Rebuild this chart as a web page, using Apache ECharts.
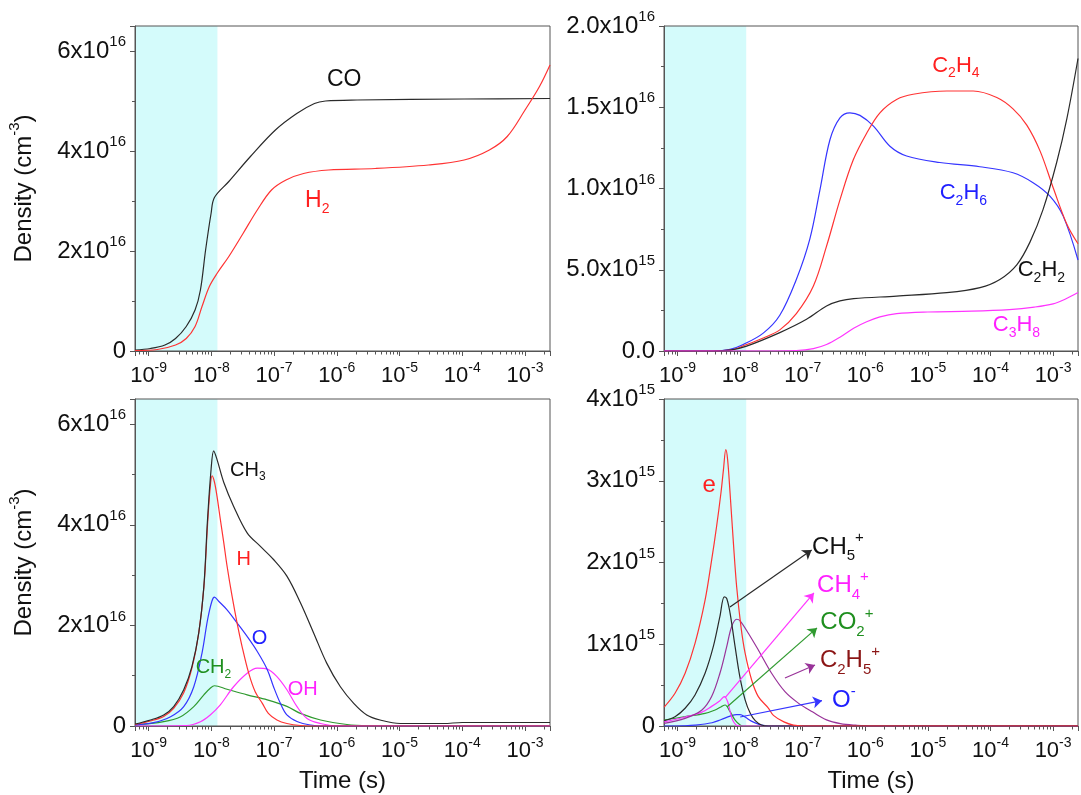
<!DOCTYPE html>
<html>
<head>
<meta charset="utf-8">
<script src="https://cdn.jsdelivr.net/npm/echarts@6/dist/echarts.min.js"></script>
<style>html,body{margin:0;padding:0;background:#fff}#c{width:1081px;height:795px}</style>
</head>
<body>
<div id="c"></div>
<script>
// ---------------- data (time in s, density in cm^-3) ----------------
// Panel 1
const CO = [[6.1e-10,0.02e16],[1.07e-9,0.05e16],[1.82e-9,0.12e16],[2.69e-9,0.25e16],[3.98e-9,0.49e16],[5.5e-9,0.82e16],[6.7e-9,1.22e16],[8.1e-9,2.02e16],[9.9e-9,2.75e16],[1.12e-8,3.07e16],[1.9e-8,3.39e16],[4.2e-8,3.89e16],[1.05e-7,4.42e16],[2.3e-7,4.75e16],[4.4e-7,4.95e16],[6.6e-7,5.0e16],[2.1e-6,5.02e16],[1.07e-4,5.04e16],[2.5e-3,5.05e16]];
const H2 = [[6.1e-10,0.01e16],[1.38e-9,0.03e16],[2.69e-9,0.12e16],[3.98e-9,0.25e16],[5.5e-9,0.49e16],[7.1e-9,0.89e16],[9.3e-9,1.29e16],[1.23e-8,1.55e16],[1.9e-8,1.89e16],[3.2e-8,2.35e16],[5.4e-8,2.82e16],[9.1e-8,3.22e16],[1.55e-7,3.42e16],[2.95e-7,3.55e16],[7.4e-7,3.62e16],[4.1e-6,3.65e16],[2.9e-5,3.72e16],[1.07e-4,3.82e16],[2.7e-4,4.02e16],[5.2e-4,4.29e16],[1e-3,4.82e16],[1.7e-3,5.29e16],[2.5e-3,5.72e16]];
// Panel 2
const C2H6 = [[6.1e-10,0],[3.7e-9,0],[6.9e-9,0.01e16],[1.12e-8,0.04e16],[2.34e-8,0.11e16],[4.3e-8,0.22e16],[7.9e-8,0.44e16],[1.3e-7,0.69e16],[1.88e-7,0.99e16],[2.72e-7,1.30e16],[3.93e-7,1.435e16],[5.68e-7,1.466e16],[8.2e-7,1.45e16],[1.35e-6,1.384e16],[2.47e-6,1.26e16],[4.57e-6,1.20e16],[1.55e-5,1.16e16],[6.76e-5,1.134e16],[2.29e-4,1.097e16],[4.79e-4,1.036e16],[8.9e-4,0.953e16],[1.45e-3,0.83e16],[2.5e-3,0.56e16]];
const C2H4 = [[6.1e-10,0],[3.7e-9,0],[6.9e-9,0.005e16],[1.27e-8,0.04e16],[2.34e-8,0.08e16],[4.3e-8,0.13e16],[7.9e-8,0.23e16],[1.48e-7,0.40e16],[2.4e-7,0.645e16],[3.93e-7,0.93e16],[6.4e-7,1.175e16],[1.05e-6,1.34e16],[1.71e-6,1.466e16],[3.16e-6,1.548e16],[5.8e-6,1.58e16],[2.0e-5,1.60e16],[5.3e-5,1.60e16],[1.26e-4,1.56e16],[2.29e-4,1.49e16],[3.8e-4,1.39e16],[6.2e-4,1.23e16],[1e-3,1.006e16],[1.66e-3,0.78e16],[2.5e-3,0.66e16]];
const C2H2 = [[6.1e-10,0],[3.7e-9,0],[6.9e-9,0.005e16],[1.27e-8,0.03e16],[4.3e-8,0.113e16],[1.15e-7,0.195e16],[2.4e-7,0.277e16],[3.93e-7,0.308e16],[6.5e-7,0.322e16],[3.16e-6,0.338e16],[2.0e-5,0.359e16],[6.8e-5,0.39e16],[1.41e-4,0.44e16],[2.63e-4,0.53e16],[4.27e-4,0.67e16],[6.9e-4,0.87e16],[1.14e-3,1.16e16],[1.66e-3,1.43e16],[2.5e-3,1.80e16]];
const C3H8 = [[6.1e-10,0],[2.5e-8,0],[7.9e-8,0.003e16],[1.48e-7,0.015e16],[2.4e-7,0.04e16],[3.93e-7,0.085e16],[6.5e-7,0.14e16],[1.05e-6,0.18e16],[1.71e-6,0.21e16],[3.16e-6,0.23e16],[1e-5,0.24e16],[5e-5,0.245e16],[2e-4,0.255e16],[5e-4,0.27e16],[1e-3,0.29e16],[1.58e-3,0.32e16],[2.5e-3,0.36e16]];
// Panel 3
const CH3 = [[6.1e-10,0.04e16],[1.07e-9,0.12e16],[1.74e-9,0.22e16],[2.51e-9,0.385e16],[3.63e-9,0.72e16],[4.9e-9,1.18e16],[6.3e-9,1.85e16],[7.6e-9,2.78e16],[8.7e-9,4.11e16],[9.9e-9,5.10e16],[1.09e-8,5.47e16],[1.23e-8,5.30e16],[1.58e-8,4.84e16],[2.26e-8,4.37e16],[3.72e-8,3.84e16],[6.0e-8,3.575e16],[9.8e-8,3.31e16],[1.6e-7,2.98e16],[2.63e-7,2.45e16],[4.27e-7,1.85e16],[6.9e-7,1.25e16],[1.14e-6,0.78e16],[1.86e-6,0.45e16],[3.0e-6,0.22e16],[4.9e-6,0.12e16],[1.02e-5,0.05e16],[5e-5,0.05e16],[1e-4,0.07e16],[2.5e-3,0.07e16]];
const H = [[6.1e-10,0.03e16],[1.07e-9,0.10e16],[1.74e-9,0.19e16],[2.51e-9,0.35e16],[3.63e-9,0.66e16],[4.9e-9,1.15e16],[6.3e-9,1.85e16],[7.6e-9,2.75e16],[8.7e-9,4.0e16],[9.6e-9,4.75e16],[1.03e-8,4.97e16],[1.12e-8,4.85e16],[1.23e-8,4.57e16],[1.39e-8,4.11e16],[1.58e-8,3.64e16],[1.78e-8,3.18e16],[2.14e-8,2.58e16],[2.57e-8,2.05e16],[3.09e-8,1.58e16],[3.94e-8,1.05e16],[5.0e-8,0.68e16],[6.5e-8,0.45e16],[8.1e-8,0.25e16],[1.11e-7,0.12e16],[1.6e-7,0.05e16],[2.63e-7,0.01e16],[5e-7,0],[2.5e-3,0]];
const O = [[6.1e-10,0.02e16],[1.2e-9,0.066e16],[2.24e-9,0.185e16],[3.63e-9,0.385e16],[5.25e-9,0.78e16],[7.1e-9,1.45e16],[8.7e-9,2.11e16],[1.02e-8,2.48e16],[1.12e-8,2.56e16],[1.31e-8,2.48e16],[1.78e-8,2.31e16],[2.57e-8,2.05e16],[3.72e-8,1.78e16],[5.4e-8,1.48e16],[7.8e-8,1.12e16],[9.8e-8,0.78e16],[1.26e-7,0.45e16],[1.6e-7,0.22e16],[2.32e-7,0.09e16],[3.8e-7,0.02e16],[6.3e-7,0],[2.5e-3,0]];
const OH = [[6.1e-10,0],[4.07e-9,0.01e16],[6.7e-9,0.086e16],[9.6e-9,0.22e16],[1.39e-8,0.42e16],[2.26e-8,0.78e16],[3.72e-8,1.05e16],[5.4e-8,1.15e16],[7.8e-8,1.13e16],[1.11e-7,0.98e16],[1.6e-7,0.72e16],[2.32e-7,0.385e16],[3.35e-7,0.15e16],[5.5e-7,0.05e16],[1e-6,0],[2.5e-3,0]];
const CH2 = [[6.1e-10,0.02e16],[1.74e-9,0.086e16],[3.24e-9,0.185e16],[5.25e-9,0.385e16],[7.6e-9,0.62e16],[9.6e-9,0.75e16],[1.12e-8,0.80e16],[1.78e-8,0.73e16],[3.72e-8,0.62e16],[7.8e-8,0.52e16],[1.6e-7,0.39e16],[2.63e-7,0.25e16],[5.5e-7,0.12e16],[1.45e-6,0.03e16],[3.2e-6,0.005e16],[1e-5,0],[2.5e-3,0]];
// Panel 4
const E = [[6.1e-10,0.23e15],[9.1e-10,0.40e15],[1.32e-9,0.645e15],[1.9e-9,1.01e15],[2.75e-9,1.54e15],[3.5e-9,2.03e15],[4.2e-9,2.44e15],[4.93e-9,2.85e15],[5.4e-9,3.13e15],[5.9e-9,3.38e15],[6.3e-9,3.26e15],[6.9e-9,2.85e15],[7.8e-9,2.24e15],[8.8e-9,1.70e15],[1.03e-8,1.215e15],[1.2e-8,0.89e15],[1.53e-8,0.56e15],[1.95e-8,0.36e15],[2.82e-8,0.22e15],[3.4e-8,0.13e15],[5e-8,0.05e15],[7.1e-8,0.01e15],[1e-7,0],[2.5e-3,0]];
const CH5P = [[6.1e-10,0.065e15],[9.1e-10,0.114e15],[1.32e-9,0.217e15],[1.9e-9,0.38e15],[2.75e-9,0.645e15],[3.72e-9,0.97e15],[4.75e-9,1.34e15],[5.57e-9,1.58e15],[6.1e-9,1.56e15],[6.9e-9,1.38e15],[8.3e-9,0.97e15],[9.9e-9,0.60e15],[1.2e-8,0.32e15],[1.45e-8,0.155e15],[1.74e-8,0.065e15],[2.19e-8,0.012e15],[2.8e-8,0],[2.5e-3,0]];
const C2H5P = [[6.1e-10,0.033e15],[1.32e-9,0.094e15],[2.45e-9,0.196e15],[3.5e-9,0.36e15],[4.75e-9,0.645e15],[6.1e-9,0.97e15],[7.3e-9,1.215e15],[8.8e-9,1.306e15],[9.9e-9,1.29e15],[1.35e-8,1.135e15],[1.95e-8,0.93e15],[3.18e-8,0.645e15],[5.2e-8,0.42e15],[8.5e-8,0.28e15],[1.45e-7,0.17e15],[2.4e-7,0.075e15],[4e-7,0.03e15],[7.1e-7,0.01e15],[1.26e-6,0],[2.5e-3,0]];
const CH4P = [[6.1e-10,0.05e15],[1.32e-9,0.11e15],[2.45e-9,0.17e15],[3.5e-9,0.24e15],[4.75e-9,0.31e15],[5.6e-9,0.36e15],[6.3e-9,0.30e15],[6.9e-9,0.18e15],[7.6e-9,0.07e15],[8.7e-9,0.01e15],[1e-8,0],[2.5e-3,0]];
const CO2P = [[6.1e-10,0.073e15],[1.32e-9,0.114e15],[2.75e-9,0.155e15],[3.98e-9,0.196e15],[5e-9,0.236e15],[5.75e-9,0.257e15],[6.9e-9,0.175e15],[8.3e-9,0.073e15],[1e-8,0.012e15],[1.12e-8,0],[2.5e-3,0]];
const OM = [[6.1e-10,0],[1.26e-9,0.003e15],[1.9e-9,0.01e15],[3.55e-9,0.04e15],[5e-9,0.08e15],[6.9e-9,0.12e15],[8.7e-9,0.14e15],[1e-8,0.14e15],[1.2e-8,0.11e15],[1.51e-8,0.06e15],[2e-8,0.02e15],[2.5e-8,0.005e15],[3.2e-8,0],[2.5e-3,0]];

// axis ranges and ticks
const T_MIN = 6.07e-10, T_MAX = 2.5e-3;
const PLASMA_END = 1.25e-8;
const Y_MAX  = [6.5e16, 2.0e16, 6.5e16, 4e15];
const Y_STEP = [2e16, 5e15, 2e16, 1e15];
const Y_DEC  = [0, 1, 0, 0];

// annotation texts and anchors [time, density]
const LABELS = [
  [0, 'CO', 1.31e-6, 5.42e16, 'k'],
  [0, 'H{sub|2}', 4.88e-7, 3.0e16, 'r'],
  [1, 'C{sub|2}H{sub|4}', 2.8e-5, 1.757e16, 'r'],
  [1, 'C{sub|2}H{sub|6}', 3.69e-5, 0.97e16, 'b'],
  [1, 'C{sub|2}H{sub|2}', 6.5e-4, 0.496e16, 'k'],
  [1, 'C{sub|3}H{sub|8}', 2.6e-4, 0.158e16, 'm'],
  [2, 'CH{sub|3}', 3.81e-8, 5.085e16, 'k'],
  [2, 'H', 3.27e-8, 3.31e16, 'r'],
  [2, 'O', 5.86e-8, 1.735e16, 'b'],
  [2, 'CH{sub|2}', 1.08e-8, 1.157e16, 'g'],
  [2, 'OH', 2.86e-7, 0.728e16, 'm'],
  [3, 'e', 3.2e-9, 2.94e15, 'r'],
  [3, 'CH{sub|5}{sup|+}', 3.65e-7, 2.19e15, 'k'],
  [3, 'CH{sub|4}{sup|+}', 4.39e-7, 1.717e15, 'm'],
  [3, 'CO{sub|2}{sup|+}', 5.08e-7, 1.267e15, 'g'],
  [3, 'C{sub|2}H{sub|5}{sup|+}', 5.68e-7, 0.80e15, 'dr'],
  [3, 'O{sup|-}', 4.55e-7, 0.312e15, 'b']
];
// arrows in panel 4: [t0, n0, t1, n1, colour key]
const ARROWS = [
  [6.87e-9, 1.457e15, 1.39e-7, 2.154e15, 'k'],
  [5.71e-9, 0.343e15, 1.51e-7, 1.628e15, 'm'],
  [6.15e-9, 0.233e15, 1.69e-7, 1.20e15, 'g'],
  [5.2e-8, 0.588e15, 1.57e-7, 0.747e15, 'p'],
  [1.0e-8, 0.11e15, 2.03e-7, 0.31e15, 'b']
];

// ---------------- styles ----------------
const FONT = '"Liberation Sans", Arial, Helvetica, sans-serif';
const AX = '#555555';
const TXT = '#111111';
const CYAN = '#d4fbfb';
const COL = {k:'#2a2a2a', r:'#ff3333', b:'#3535ff', m:'#ff35ff', g:'#2f9a2f', p:'#993399', dr:'#8b1515'};
const LCOL = {k:'#111111', r:'#ff2020', b:'#2020ff', m:'#ff20ff', g:'#1f8f1f', p:'#993399', dr:'#8b1515'};
const LFONT = [23, 22, 20, 24];
const GRIDS = [
  {left:135, top:26, width:415, height:325},
  {left:664, top:26, width:414, height:325},
  {left:135, top:399, width:415, height:327},
  {left:664, top:399, width:414, height:327}
];

// 2..9 minor tick positions of the log time axis
const MINOR_T = [];
for (let e = -10; e <= -3; e++) {
  for (let k = 2; k <= 9; k++) {
    const v = k * Math.pow(10, e);
    if (v > T_MIN && v < T_MAX) MINOR_T.push(v);
  }
}

function richNum(fs, ss) {
  return {
    b: {fontSize: fs, fontFamily: FONT, color: TXT},
    s: {fontSize: ss, fontFamily: FONT, color: TXT, verticalAlign: 'top', height: 12}
  };
}
function decade(v) {
  const e = Math.log10(v), r = Math.round(e);
  if (Math.abs(e - r) > 0.02) return '';
  return '{b|10}{s|' + r + '}';
}
function sciLabel(step, dec) {
  return function (v) {
    if (Math.abs(v / step - Math.round(v / step)) > 1e-6) return '';
    if (v === 0) return '{b|' + (0).toFixed(dec) + '}';
    const e = Math.floor(Math.log10(v) + 1e-9);
    const m = v / Math.pow(10, e);
    return '{b|' + m.toFixed(dec) + 'x10}{s|' + e + '}';
  };
}

const xAxes = [], yAxes = [], series = [];
for (let g = 0; g < 4; g++) {
  xAxes.push({
    type: 'log', logBase: 10, gridIndex: g, min: T_MIN, max: T_MAX, z: 2,
    axisLine: {show: true, lineStyle: {color: AX, width: 1}},
    axisTick: {show: true, length: 5, lineStyle: {color: AX, width: 1}},
    splitLine: {show: false},
    axisLabel: {margin: 11, formatter: decade, fontSize: 22, lineHeight: 28, fontFamily: FONT, color: TXT, rich: richNum(22, 14)},
    name: g >= 2 ? 'Time (s)' : '', nameLocation: 'middle', nameGap: 43,
    nameTextStyle: {fontSize: 24, fontFamily: FONT, color: TXT}
  });
  yAxes.push({
    type: 'value', gridIndex: g, min: 0, max: Y_MAX[g], interval: Y_STEP[g], z: 2,
    axisLine: {show: true, lineStyle: {color: AX, width: 1}},
    axisTick: {show: true, length: 5, lineStyle: {color: AX, width: 1}},
    minorTick: {show: true, splitNumber: 2, length: 3, lineStyle: {color: AX, width: 1}},
    splitLine: {show: false}, minorSplitLine: {show: false},
    axisLabel: {margin: 9, formatter: sciLabel(Y_STEP[g], Y_DEC[g]), fontSize: 24, lineHeight: 30, fontFamily: FONT, color: TXT, rich: richNum(24, 15)},
    name: (g % 2 === 0) ? 'Density (cm{sup|-3})' : '', nameLocation: 'middle', nameRotate: 90, nameGap: 96,
    nameTextStyle: {fontSize: 24, lineHeight: 30, fontFamily: FONT, color: TXT,
      rich: {sup: {fontSize: 15, fontFamily: FONT, color: TXT, verticalAlign: 'top', height: 12}}}
  });
  // shaded plasma period
  series.push({
    type: 'line', data: [], xAxisIndex: g, yAxisIndex: g, z: 1, silent: true,
    markArea: {silent: true, animation: false, itemStyle: {color: CYAN},
      data: [[{xAxis: T_MIN}, {xAxis: PLASMA_END}]]}
  });
}

const PANEL_SERIES = [
  [['CO', CO, 'k'], ['H2', H2, 'r']],
  [['C2H6', C2H6, 'b'], ['C2H4', C2H4, 'r'], ['C2H2', C2H2, 'k'], ['C3H8', C3H8, 'm']],
  [['CH2', CH2, 'g'], ['OH', OH, 'm'], ['O', O, 'b'], ['H', H, 'r'], ['CH3', CH3, 'k']],
  [['O-', OM, 'b'], ['CO2+', CO2P, 'g'], ['CH4+', CH4P, 'm'], ['C2H5+', C2H5P, 'p'], ['CH5+', CH5P, 'k'], ['e', E, 'r']]
];
PANEL_SERIES.forEach((list, g) => {
  list.forEach(([name, data, c]) => {
    series.push({
      type: 'line', name: name, data: data, xAxisIndex: g, yAxisIndex: g, z: 3,
      showSymbol: false, symbol: 'none', smooth: 0.35, silent: true,
      lineStyle: {color: COL[c], width: 1.2}, itemStyle: {color: COL[c]}
    });
  });
});

for (let g = 0; g < 4; g++) {
  const fs = LFONT[g], ss = Math.round(fs * 0.62);
  const pts = LABELS.filter(l => l[0] === g).map(l => {
    const c = LCOL[l[4]];
    return {
      coord: [l[2], l[3]],
      label: {
        show: true, position: 'inside', formatter: l[1], color: c, fontSize: fs, fontFamily: FONT, lineHeight: fs + 6,
        rich: {
          sub: {fontSize: ss, fontFamily: FONT, color: c, verticalAlign: 'bottom', height: 12},
          sup: {fontSize: ss, fontFamily: FONT, color: c, verticalAlign: 'top', height: 12}
        }
      }
    };
  });
  const s = {
    type: 'line', data: [], xAxisIndex: g, yAxisIndex: g, z: 4, silent: true,
    markPoint: {silent: true, animation: false, symbol: 'circle', symbolSize: 1,
      itemStyle: {color: 'rgba(0,0,0,0)'}, data: pts}
  };
  if (g === 3) {
    s.markLine = {
      silent: true, animation: false, symbol: ['none', 'arrow'], symbolSize: 9,
      label: {show: false},
      lineStyle: {type: 'solid', width: 1.2},
      data: ARROWS.map(a => [
        {coord: [a[0], a[1]], lineStyle: {color: COL[a[4]], type: 'solid', width: 1.2}, itemStyle: {color: COL[a[4]]}},
        {coord: [a[2], a[3]], itemStyle: {color: COL[a[4]]}}
      ])
    };
  }
  series.push(s);
}

const chart = echarts.init(document.getElementById('c'), null, {renderer: 'canvas'});
chart.setOption({
  animation: false,
  backgroundColor: '#ffffff',
  grid: GRIDS.map(r => Object.assign({show: true, borderColor: AX, borderWidth: 1, backgroundColor: 'transparent', z: 2}, r)),
  xAxis: xAxes,
  yAxis: yAxes,
  series: series
});

// minor ticks of the log axes, placed through the axes' own scale
const tickEls = [];
for (let g = 0; g < 4; g++) {
  const yb = chart.convertToPixel({yAxisIndex: g}, 0);
  const y0 = Math.round(yb) + 0.5;
  MINOR_T.forEach(t => {
    const x = Math.round(chart.convertToPixel({xAxisIndex: g}, t)) + 0.5;
    tickEls.push({type: 'line', silent: true, z: 10,
      shape: {x1: x, y1: y0, x2: x, y2: y0 + 3},
      style: {stroke: AX, lineWidth: 1}});
  });
}
chart.setOption({graphic: tickEls});
</script>
</body>
</html>
